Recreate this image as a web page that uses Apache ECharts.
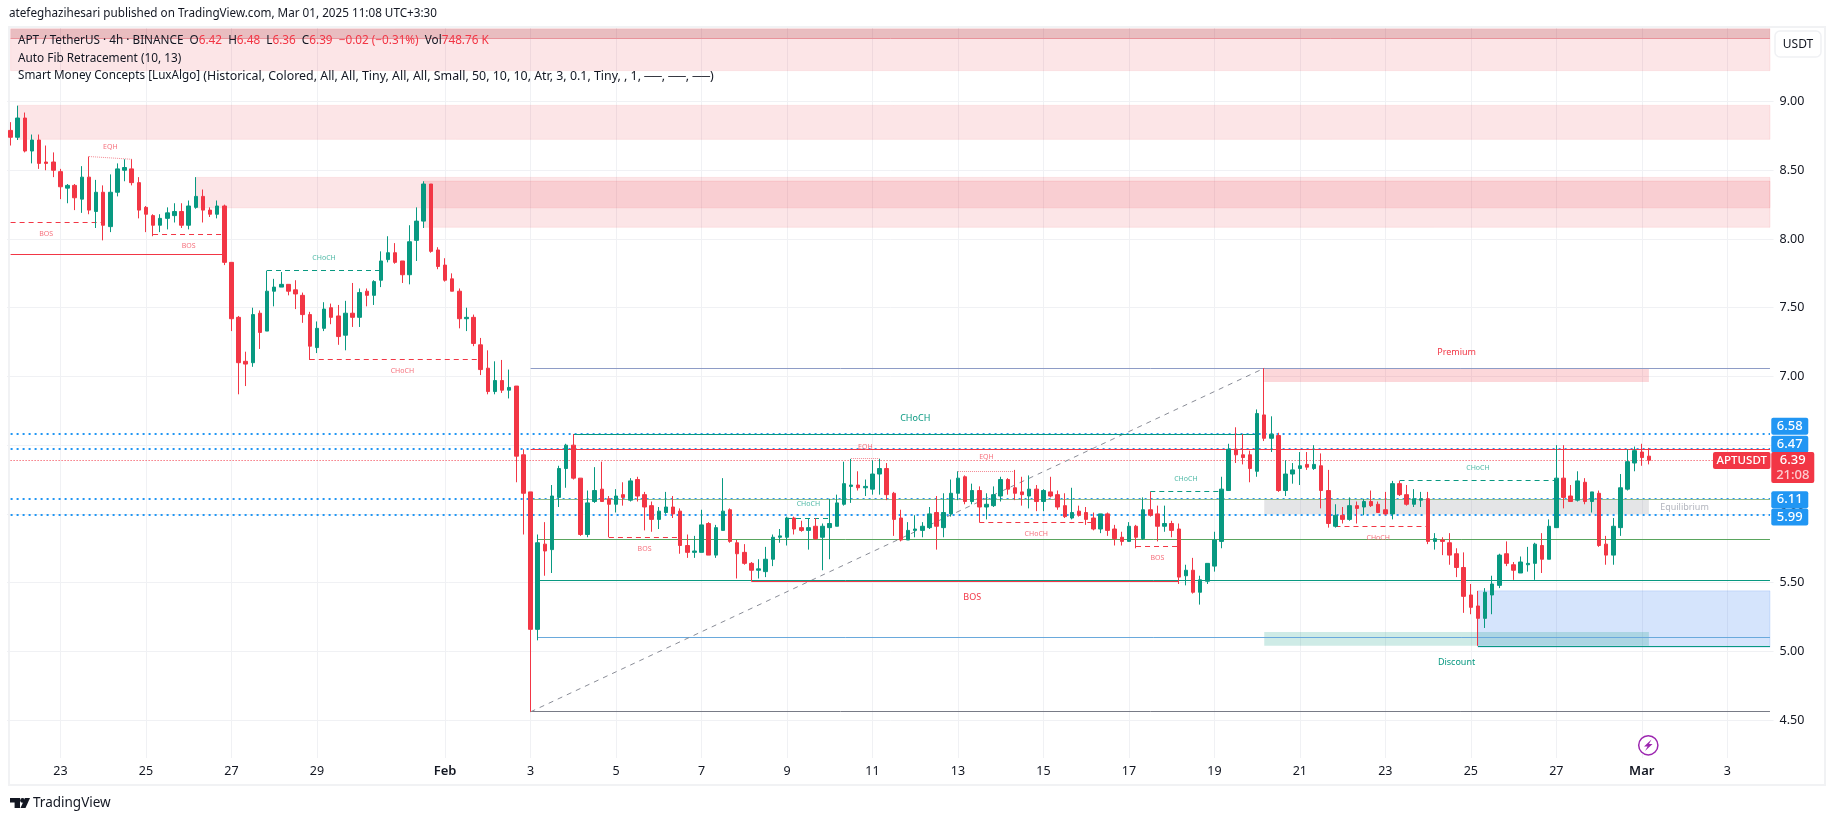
<!DOCTYPE html>
<html>
<head>
<meta charset="utf-8">
<style>html,body{margin:0;padding:0;background:#fff}#c{width:1835px;height:821px}</style>
<script src="https://cdn.jsdelivr.net/npm/echarts@6/dist/echarts.min.js"></script>
</head>
<body>
<div id="c"></div>
<script>
// ---- candles: [open, high, low, close] ----
const candlesA = [[8.79,8.85,8.68,8.74],[8.74,8.97,8.72,8.88],[8.88,8.92,8.63,8.64],[8.64,8.76,8.55,8.72],[8.72,8.76,8.51,8.55],[8.56,8.68,8.50,8.55],[8.56,8.63,8.45,8.50],[8.49,8.51,8.29,8.38],[8.37,8.40,8.26,8.39],[8.39,8.40,8.21,8.30],[8.29,8.53,8.19,8.45],[8.45,8.60,8.18,8.21],[8.20,8.43,8.08,8.34],[8.34,8.39,7.99,8.10],[8.09,8.47,8.05,8.34],[8.34,8.55,8.31,8.51],[8.50,8.58,8.42,8.52],[8.51,8.58,8.39,8.41],[8.41,8.45,8.15,8.21],[8.23,8.24,8.05,8.18],[8.17,8.18,8.02,8.10],[8.10,8.18,8.05,8.15],[8.15,8.23,8.07,8.19],[8.17,8.26,8.12,8.20],[8.20,8.26,8.08,8.10],[8.10,8.28,8.07,8.24],[8.23,8.45,8.22,8.31],[8.31,8.36,8.12,8.21],[8.21,8.23,8.16,8.18],[8.18,8.28,8.15,8.24],[8.24,8.25,7.81,7.83]];
const candlesB = [[7.83,7.83,7.33,7.42],[7.43,7.44,6.87,7.10],[7.11,7.18,6.93,7.09],[7.10,7.50,7.07,7.45],[7.46,7.48,7.20,7.32],[7.33,7.77,7.33,7.62],[7.62,7.71,7.51,7.65],[7.65,7.76,7.65,7.67],[7.67,7.67,7.59,7.62],[7.63,7.70,7.49,7.60],[7.59,7.61,7.39,7.45],[7.45,7.47,7.12,7.22],[7.21,7.40,7.17,7.35],[7.35,7.54,7.33,7.49],[7.50,7.53,7.38,7.43],[7.44,7.52,7.23,7.29],[7.30,7.55,7.19,7.46],[7.46,7.68,7.36,7.43],[7.43,7.64,7.36,7.61],[7.62,7.64,7.51,7.59],[7.59,7.70,7.52,7.69],[7.70,7.91,7.65,7.84],[7.85,8.02,7.83,7.90],[7.90,7.97,7.82,7.83],[7.84,7.84,7.68,7.74],[7.74,8.10,7.67,7.98],[7.99,8.23,7.84,8.13],[8.13,8.42,8.08,8.40],[8.40,8.40,7.90,7.91],[7.92,7.94,7.78,7.80]];
const candlesC = [[7.81,7.86,7.69,7.70],[7.71,7.75,7.62,7.62],[7.62,7.64,7.35,7.42],[7.42,7.50,7.33,7.43],[7.43,7.45,7.22,7.24],[7.23,7.28,7.01,7.05],[7.06,7.19,6.87,6.89],[6.89,7.11,6.87,6.97],[6.97,7.12,6.88,6.90],[6.90,7.05,6.84,6.92],[6.93,6.93,6.23,6.42],[6.43,6.47,5.85,6.15],[6.16,6.16,4.56,5.16],[5.16,5.85,5.08,5.79],[5.78,5.94,5.55,5.73],[5.74,6.21,5.57,6.13],[6.12,6.35,6.05,6.33],[6.33,6.51,6.19,6.50],[6.50,6.58,6.25,6.26],[6.26,6.26,5.84,5.85],[5.85,6.17,5.83,6.08],[6.09,6.34,6.08,6.17],[6.18,6.38,6.09,6.09],[6.11,6.13,5.83,6.07],[6.07,6.18,6.01,6.13],[6.14,6.23,6.06,6.12],[6.10,6.26,6.09,6.24],[6.25,6.27,6.09,6.13],[6.14,6.16,5.88,6.05],[6.06,6.09,5.87,5.96],[5.96,6.05,5.89,6.02],[6.01,6.16,6.00,6.05],[6.05,6.13,5.97,6.00],[6.02,6.04,5.71,5.77],[5.77,5.85,5.68,5.72],[5.72,5.84,5.68,5.73],[5.72,6.03,5.72,5.92],[5.93,5.94,5.70,5.70],[5.70,5.92,5.68,5.90],[5.88,6.26,5.88,6.02]];
const candlesD = [[6.03,6.04,5.79,5.80],[5.79,5.81,5.53,5.71],[5.72,5.78,5.63,5.64],[5.64,5.65,5.51,5.59],[5.59,5.67,5.53,5.60],[5.58,5.76,5.54,5.67],[5.67,5.85,5.62,5.83],[5.83,5.89,5.79,5.84],[5.83,5.98,5.77,5.97],[5.97,5.98,5.85,5.89],[5.90,5.95,5.87,5.88],[5.88,5.97,5.74,5.90],[5.91,5.97,5.81,5.82],[5.83,5.93,5.59,5.91],[5.90,6.11,5.67,5.93],[5.91,6.14,5.91,6.08],[6.07,6.38,6.06,6.22],[6.20,6.40,6.08,6.21],[6.21,6.31,6.17,6.19],[6.19,6.25,6.13,6.20],[6.18,6.39,6.14,6.29],[6.29,6.40,6.14,6.33],[6.33,6.37,6.10,6.14],[6.15,6.16,5.84,5.96],[5.97,6.03,5.80,5.81],[5.81,5.94,5.81,5.88],[5.88,5.99,5.83,5.89],[5.88,5.94,5.83,5.91],[5.90,6.05,5.89,6.00],[6.01,6.13,5.74,5.91],[5.90,6.15,5.83,6.01],[6.00,6.25,5.98,6.15],[6.15,6.31,6.10,6.26],[6.27,6.28,6.07,6.09],[6.09,6.22,6.07,6.17],[6.17,6.20,5.94,6.05],[6.05,6.15,5.96,6.07],[6.06,6.20,6.05,6.14],[6.13,6.27,6.09,6.25],[6.25,6.26,6.14,6.18]];
const candlesE = [[6.19,6.32,6.10,6.15],[6.16,6.27,6.06,6.14],[6.13,6.28,6.04,6.18],[6.18,6.21,6.02,6.09],[6.09,6.18,6.02,6.17],[6.16,6.27,6.12,6.13],[6.14,6.17,6.03,6.05],[6.06,6.15,5.97,5.98],[5.97,6.19,5.96,6.01],[6.02,6.06,5.98,5.99],[6.01,6.05,5.92,5.96],[5.97,6.01,5.88,5.89],[5.89,6.00,5.86,6.00],[6.00,6.01,5.84,5.88],[5.89,5.92,5.77,5.82],[5.83,5.87,5.77,5.80],[5.80,5.94,5.80,5.91],[5.91,5.92,5.75,5.83],[5.82,6.12,5.81,6.03],[6.03,6.16,5.98,5.99],[6.00,6.06,5.80,5.91],[5.91,6.06,5.87,5.93],[5.93,5.95,5.83,5.88],[5.89,5.93,5.49,5.54],[5.55,5.63,5.48,5.59],[5.59,5.68,5.42,5.43],[5.43,5.55,5.34,5.52],[5.51,5.64,5.49,5.64],[5.62,5.87,5.58,5.81],[5.80,6.27,5.75,6.18],[6.17,6.51,6.17,6.47],[6.47,6.63,6.37,6.43],[6.43,6.58,6.36,6.41],[6.43,6.46,6.23,6.33],[6.31,6.76,6.27,6.73],[6.72,7.06,6.53,6.55],[6.55,6.71,6.45,6.58],[6.57,6.59,6.16,6.17],[6.17,6.39,6.13,6.29],[6.29,6.37,6.22,6.32]];
const candlesF = [[6.33,6.45,6.21,6.35],[6.36,6.45,6.32,6.34],[6.33,6.50,6.32,6.36],[6.35,6.44,6.04,6.17],[6.17,6.32,5.90,5.93],[5.91,6.07,5.90,5.99],[5.99,6.05,5.93,5.96],[5.96,6.12,5.95,6.06],[6.06,6.09,5.93,6.04],[6.05,6.11,5.99,6.09],[6.09,6.17,6.05,6.06],[6.07,6.09,6.01,6.01],[6.03,6.16,5.99,6.00],[6.00,6.24,5.96,6.22],[6.22,6.24,6.13,6.14],[6.14,6.21,6.06,6.07],[6.07,6.18,6.05,6.11],[6.10,6.16,6.05,6.11],[6.11,6.16,5.78,5.80],[5.80,5.86,5.74,5.82],[5.81,5.83,5.70,5.80],[5.79,5.86,5.63,5.70],[5.71,5.75,5.54,5.61],[5.61,5.72,5.28,5.40],[5.41,5.49,5.27,5.32],[5.33,5.44,5.04,5.24],[5.24,5.46,5.17,5.43],[5.41,5.55,5.27,5.49],[5.48,5.71,5.46,5.70],[5.71,5.80,5.62,5.64],[5.63,5.65,5.52,5.59],[5.57,5.69,5.57,5.65],[5.63,5.76,5.58,5.64],[5.64,5.79,5.52,5.78],[5.77,5.86,5.57,5.67],[5.67,5.96,5.67,5.91],[5.90,6.50,5.90,6.26],[6.26,6.50,6.04,6.12],[6.13,6.21,6.09,6.09],[6.10,6.31,6.09,6.24],[6.23,6.26,6.07,6.09],[6.09,6.16,6.01,6.16],[6.15,6.17,5.76,5.77],[5.78,5.84,5.63,5.70],[5.70,5.97,5.63,5.91],[5.90,6.29,5.84,6.19],[6.18,6.47,6.17,6.38],[6.37,6.49,6.31,6.46],[6.45,6.51,6.35,6.41],[6.42,6.48,6.36,6.39]];
const candles = [...candlesA, ...candlesB, ...candlesC, ...candlesD, ...candlesE, ...candlesF];

// ---- axes ----
const slotCount = 248;
const lastSlot = slotCount - 1;
const xTickSlots  = [7,19,31,43,61,73,85,97,109,121,133,145,157,169,181,193,205,217,229,241];
const xTickLabels = ['23','25','27','29','Feb','3','5','7','9','11','13','15','17','19','21','23','25','27','Mar','3'];
const yTicks = [4.5,5,5.5,6,6.5,7,7.5,8,8.5,9];

// ---- zones: [fromSlot, upperPrice, toSlot, lowerPrice] ----
const supplyZones = [[0,9.53,lastSlot,9.225],[1,8.972,lastSlot,8.725],[26,8.448,lastSlot,8.227],[58,8.421,lastSlot,8.085]];
const topBand = [[0,9.53,lastSlot,9.46]];
const premiumZone = [[176,7.06,230,6.96]];
const equilibriumZone = [[176,6.106,230,5.999]];
const discountZone = [[176,5.14,230,5.04]];
const demandZone = [[206,5.44,lastSlot,5.03]];

// ---- segments: [fromSlot, price, toSlot, price] ----
const bluePriceLevels = [6.58,6.47,6.11,5.99];
const lastPrice = 6.39;
const blueDotted = bluePriceLevels.map(p => [0,p,lastSlot,p]);
const lastPriceLine = [[0,lastPrice,lastSlot,lastPrice]];
const redDashed = [[0,8.12,13,8.12],[20,8.03,30,8.03],[42,7.12,66,7.12],[84,5.83,94,5.83],[136,5.94,152,5.94],[158,5.76,164,5.76],[186,5.91,199,5.91]];
const tealDashed = [[36,7.77,52,7.77],[109,5.97,115,5.97],[160,6.16,170,6.16],[195,6.24,217,6.24]];
const eqhDotted = [[11,8.60,17,8.58],[118,6.40,122,6.40],[133,6.31,141,6.31]];
const redSolid = [[0,7.89,30,7.89],[73,6.47,lastSlot,6.47]];
const redBos = [[104,5.505,164,5.505]];
const tealSolid = [[74,5.516,lastSlot,5.516]];
const tealThick = [[79,6.58,175,6.58],[206,5.036,lastSlot,5.036]];
const greenLevel = [[74,5.815,lastSlot,5.815]];
const paleGreenLevel = [[73,6.105,lastSlot,6.105]];
const blueLevel = [[74,5.10,lastSlot,5.10]];
const fibTop = [[73,7.06,lastSlot,7.06]];
const fibBottom = [[73,4.56,lastSlot,4.56]];
const fibDiagonal = [[73,4.56,176,7.06]];

// ---- chart labels ----
const tinyRed = [['BOS',5,8.034],['BOS',25,7.946],['EQH',14,8.672],['CHoCH',55,7.037],['BOS',89,5.742],['EQH',120,6.488],['EQH',137,6.411],['CHoCH',144,5.851],['BOS',161,5.676],['CHoCH',192,5.822]];
const tinyTeal = [['CHoCH',44,7.859],['CHoCH',112,6.069],['CHoCH',165,6.251],['CHoCH',206,6.331]];
const bigLabels = [['CHoCH',127,6.695,'#089981'],['BOS',135,5.39,'#f23645'],['Premium',203,7.172,'#f23645'],['Discount',203,4.918,'#089981'],['Equilibrium',235,6.045,'#b2b5be']];

// ---- page texts ----
const headerText = 'atefeghazihesari published on TradingView.com, Mar 01, 2025 11:08 UTC+3:30';
const legendRow1 = '{d|APT / TetherUS · 4h · BINANCE}  {d|O}{r|6.42}  {d|H}{r|6.48}  {d|L}{r|6.36}  {d|C}{r|6.39}  {r|−0.02 (−0.31%)}  {d|Vol}{r|748.76 K}';
const legendRow2 = 'Auto Fib Retracement (10, 13)';
const legendRow3 = '{a|Smart Money Concepts [LuxAlgo]} {b|(Historical, Colored, All, All, Tiny, All, All, Small, 50, 10, 10, Atr, 3, 0.1, Tiny, , 1, ──, ──, ──)}';

const FONT = '"Noto Sans", sans-serif';
const INK = '#131722';
const barPx = 7.123;
const chartLeft = 10.6 - barPx / 2;

const slotDates = [];
for (let i = 0; i < slotCount; i++) {
  const d = new Date(Date.UTC(2025, 0, 23, (i - 7) * 4));
  slotDates.push(d.toISOString().slice(0, 16));
}
const tickIndex = {};
xTickSlots.forEach((s, k) => { tickIndex[s] = xTickLabels[k]; });
const isTick = (index) => tickIndex[index] !== undefined;

function segments(name, rows, style, z) {
  return { type: 'custom', name, z, silent: true, encode: { x: 0, y: 1 }, data: rows,
    renderItem(params, api) {
      const a = api.coord([api.value(0), api.value(1)]);
      const b = api.coord([api.value(2), api.value(3)]);
      if (api.value(1) === api.value(3)) {
        const even = Math.round(style.lineWidth) % 2 === 0;
        a[1] = b[1] = even ? Math.round(a[1]) : Math.floor(a[1]) + 0.5;
      }
      return { type: 'line', shape: { x1: a[0], y1: a[1], x2: b[0], y2: b[1] }, style: Object.assign({ fill: null }, style) };
    } };
}
function zones(name, rows, fill, stroke) {
  return { type: 'custom', name, z: 1, silent: true, encode: { x: 0, y: 1 }, data: rows,
    renderItem(params, api) {
      const a = api.coord([api.value(0), api.value(1)]);
      const b = api.coord([api.value(2), api.value(3)]);
      return { type: 'rect', shape: { x: a[0], y: a[1], width: b[0] - a[0], height: b[1] - a[1] }, style: { fill, stroke: stroke || null, lineWidth: 1 } };
    } };
}
function texts(name, rows, size, color) {
  return { type: 'custom', name, z: 8, silent: true, encode: { x: 0, y: 1 }, data: rows.map(r => [r[1], r[2]]),
    renderItem(params, api) {
      const p = api.coord([api.value(0), api.value(1)]);
      const r = rows[params.dataIndex];
      return { type: 'text', x: p[0], y: p[1], style: { text: r[0], fill: color || r[3], fontSize: size, fontFamily: FONT, align: 'center', verticalAlign: 'middle' } };
    } };
}
function tagBox(x, y, w, h, bg, rows, size) {
  const children = [{ type: 'rect', shape: { x, y, width: w, height: h, r: 2 }, style: { fill: bg } }];
  rows.forEach(t => children.push({ type: 'text', x: x + w / 2, y: t[1], style: { text: t[0], fill: t[2] || '#fff', fontSize: size, fontWeight: 500, fontFamily: FONT, align: 'center', verticalAlign: 'middle' } }));
  return { type: 'group', children };
}
const blueTagShift = [-8, -5, 1, 1.7];
const priceTags = { type: 'custom', name: 'blue tags', z: 12, silent: true, encode: { x: 0, y: 1 },
  data: bluePriceLevels.map(p => [lastSlot, p]),
  renderItem(params, api) {
    const p = api.coord([api.value(0), api.value(1)]);
    const cy = p[1] + blueTagShift[params.dataIndex];
    return tagBox(p[0] + 1.3, cy - 8.5, 37, 17, '#2196f3', [[api.value(1).toFixed(2), cy]], 13);
  } };
const lastTag = { type: 'custom', name: 'last tag', z: 12, silent: true, encode: { x: 0, y: 1 },
  data: [[lastSlot, lastPrice]],
  renderItem(params, api) {
    const p = api.coord([api.value(0), api.value(1)]);
    return { type: 'group', children: [
      tagBox(p[0] + 1.3, p[1] - 8.3, 43, 31, '#f23645', [[lastPrice.toFixed(2), p[1]], ['21:08', p[1] + 15, 'rgba(255,255,255,0.75)']], 13),
      tagBox(p[0] - 57, p[1] - 8.3, 57.5, 17, '#f23645', [['APTUSDT', p[1]]], 11.5)
    ] };
  } };

const chart = echarts.init(document.getElementById('c'), null, { renderer: 'canvas' });
chart.setOption({
  animation: false,
  backgroundColor: '#fff',
  grid: { left: chartLeft, top: 28, width: slotCount * barPx, height: 730, containLabel: false },
  xAxis: {
    type: 'category', data: slotDates, boundaryGap: true,
    axisLine: { show: false }, axisTick: { show: false },
    splitLine: { show: true, interval: isTick, alignWithLabel: true, lineStyle: { color: '#f0f1f4', width: 1 } },
    axisLabel: { interval: isTick, margin: 7, color: INK, fontSize: 12.5, fontFamily: FONT,
      formatter: (v, i) => { const t = tickIndex[i] || ''; return /[A-Za-z]/.test(t) ? '{m|' + t + '}' : t; },
      rich: { m: { fontWeight: 600, fontSize: 13, color: INK, fontFamily: FONT } } }
  },
  yAxis: {
    type: 'value', position: 'right', min: 4.224, max: 9.535, scale: true,
    axisLine: { show: false },
    axisTick: { show: false, customValues: yTicks },
    splitLine: { show: true, lineStyle: { color: '#f0f1f4', width: 1 } },
    axisLabel: { customValues: yTicks, margin: 6, color: INK, fontSize: 12.5, fontFamily: FONT, formatter: v => v.toFixed(2) }
  },
  series: [
    zones('supply zones', supplyZones, 'rgba(232,60,72,0.135)', 'rgba(232,60,72,0.10)'),
    zones('top band', topBand, 'rgba(160,30,40,0.20)'),
    zones('premium', premiumZone, 'rgba(242,54,69,0.20)'),
    zones('equilibrium', equilibriumZone, 'rgba(120,123,134,0.20)'),
    zones('demand', demandZone, 'rgba(33,110,240,0.19)', 'rgba(33,110,240,0.14)'),
    zones('discount', discountZone, 'rgba(8,153,129,0.20)'),
    segments('top band edge', [[0,9.46,lastSlot,9.46]], { stroke: '#e8939b', lineWidth: 1 }, 2),
    segments('blue levels', blueDotted, { stroke: '#2196f3', lineWidth: 2, lineDash: [2, 4] }, 2),
    segments('last price', lastPriceLine, { stroke: '#f23645', lineWidth: 1, lineDash: [1, 2] }, 2),
    segments('red dashed', redDashed, { stroke: '#f23645', lineWidth: 1, lineDash: [5, 4] }, 2),
    segments('teal dashed', tealDashed, { stroke: '#089981', lineWidth: 1, lineDash: [5, 4] }, 2),
    segments('eqh', eqhDotted, { stroke: '#f48a94', lineWidth: 1, lineDash: [1, 1] }, 2),
    segments('red solid', redSolid, { stroke: '#f23645', lineWidth: 1 }, 2),
    segments('red bos', redBos, { stroke: '#f23645', lineWidth: 1 }, 2),
    segments('teal solid', tealSolid, { stroke: '#089981', lineWidth: 1 }, 3),
    segments('teal thick', tealThick, { stroke: '#089981', lineWidth: 1 }, 3),
    segments('green', greenLevel, { stroke: '#5aa55e', lineWidth: 1 }, 2),
    segments('pale green', paleGreenLevel, { stroke: '#8fbb8c', lineWidth: 1 }, 2),
    segments('blue line', blueLevel, { stroke: '#6aa9dc', lineWidth: 1 }, 2),
    segments('fib top', fibTop, { stroke: '#8e9cc6', lineWidth: 1 }, 2),
    segments('fib bottom', fibBottom, { stroke: '#787b86', lineWidth: 1 }, 2),
    segments('fib diagonal', fibDiagonal, { stroke: '#8a8d97', lineWidth: 1, lineDash: [5, 5] }, 2),
    {
      type: 'candlestick', name: 'APTUSDT', z: 5, barWidth: 4, silent: true,
      data: candles.map(c => [c[0], c[3], c[2], c[1]]),
      itemStyle: { color: '#089981', color0: '#f23645', borderColor: '#089981', borderColor0: '#f23645', borderWidth: 1 }
    },
    texts('tiny red labels', tinyRed, 7, '#f6717d'),
    texts('tiny teal labels', tinyTeal, 7, '#4fb9a6'),
    texts('big labels', bigLabels, 9),
    priceTags, lastTag
  ],
  graphic: { elements: [
    { type: 'rect', z: 0, silent: true, shape: { x: 9, y: 27, width: 1816, height: 758 }, style: { fill: null, stroke: '#f1f2f4', lineWidth: 2 } },
    { type: 'text', z: 20, x: 9, y: 14, style: { text: headerText, fill: INK, fontSize: 11.7, fontFamily: FONT, verticalAlign: 'middle' } },
    { type: 'text', z: 20, x: 18, y: 41, style: { text: legendRow1, fontFamily: FONT, fontSize: 11.75, fill: INK, verticalAlign: 'middle',
        rich: { d: { fill: INK, fontSize: 11.75, fontFamily: FONT }, r: { fill: '#f23645', fontSize: 11.75, fontFamily: FONT } } } },
    { type: 'text', z: 20, x: 18, y: 58.5, style: { text: legendRow2, fill: INK, fontSize: 11.8, fontFamily: FONT, verticalAlign: 'middle' } },
    { type: 'text', z: 20, x: 18, y: 76, style: { text: legendRow3, fontFamily: FONT, fontSize: 12, fill: INK, verticalAlign: 'middle',
        rich: { a: { fill: INK, fontSize: 11.7, fontFamily: FONT }, b: { fill: INK, fontSize: 12.4, fontFamily: FONT } } } },
    { type: 'rect', z: 20, shape: { x: 1775, y: 31, width: 46, height: 26, r: 5 }, style: { fill: '#fff', stroke: '#f0f1f4', lineWidth: 1.5 } },
    { type: 'text', z: 21, x: 1798, y: 44.5, style: { text: 'USDT', fill: INK, fontSize: 12, fontFamily: FONT, align: 'center', verticalAlign: 'middle' } },
    { type: 'circle', z: 20, shape: { cx: 1648.3, cy: 745.3, r: 9.6 }, style: { fill: '#fff', stroke: '#9c27b0', lineWidth: 1.5 } },
    { type: 'polygon', z: 21, shape: { points: [[1651.5,739.5],[1644,746.5],[1647.6,746.5],[1645,751],[1652.6,744],[1649,744]] }, style: { fill: '#9c27b0' } },
    { type: 'polygon', z: 20, shape: { points: [[10,798],[20,798],[20,808],[14.6,808],[14.6,802.6],[10,802.6]] }, style: { fill: INK } },
    { type: 'circle', z: 20, shape: { cx: 22.5, cy: 800.4, r: 2.4 }, style: { fill: INK } },
    { type: 'polygon', z: 20, shape: { points: [[25,798],[30,798],[25.5,808],[20.5,808]] }, style: { fill: INK } },
    { type: 'text', z: 20, x: 33, y: 803, style: { text: 'TradingView', fill: INK, fontSize: 13.5, fontFamily: FONT, verticalAlign: 'middle' } }
  ] }
});
</script>
</body>
</html>
